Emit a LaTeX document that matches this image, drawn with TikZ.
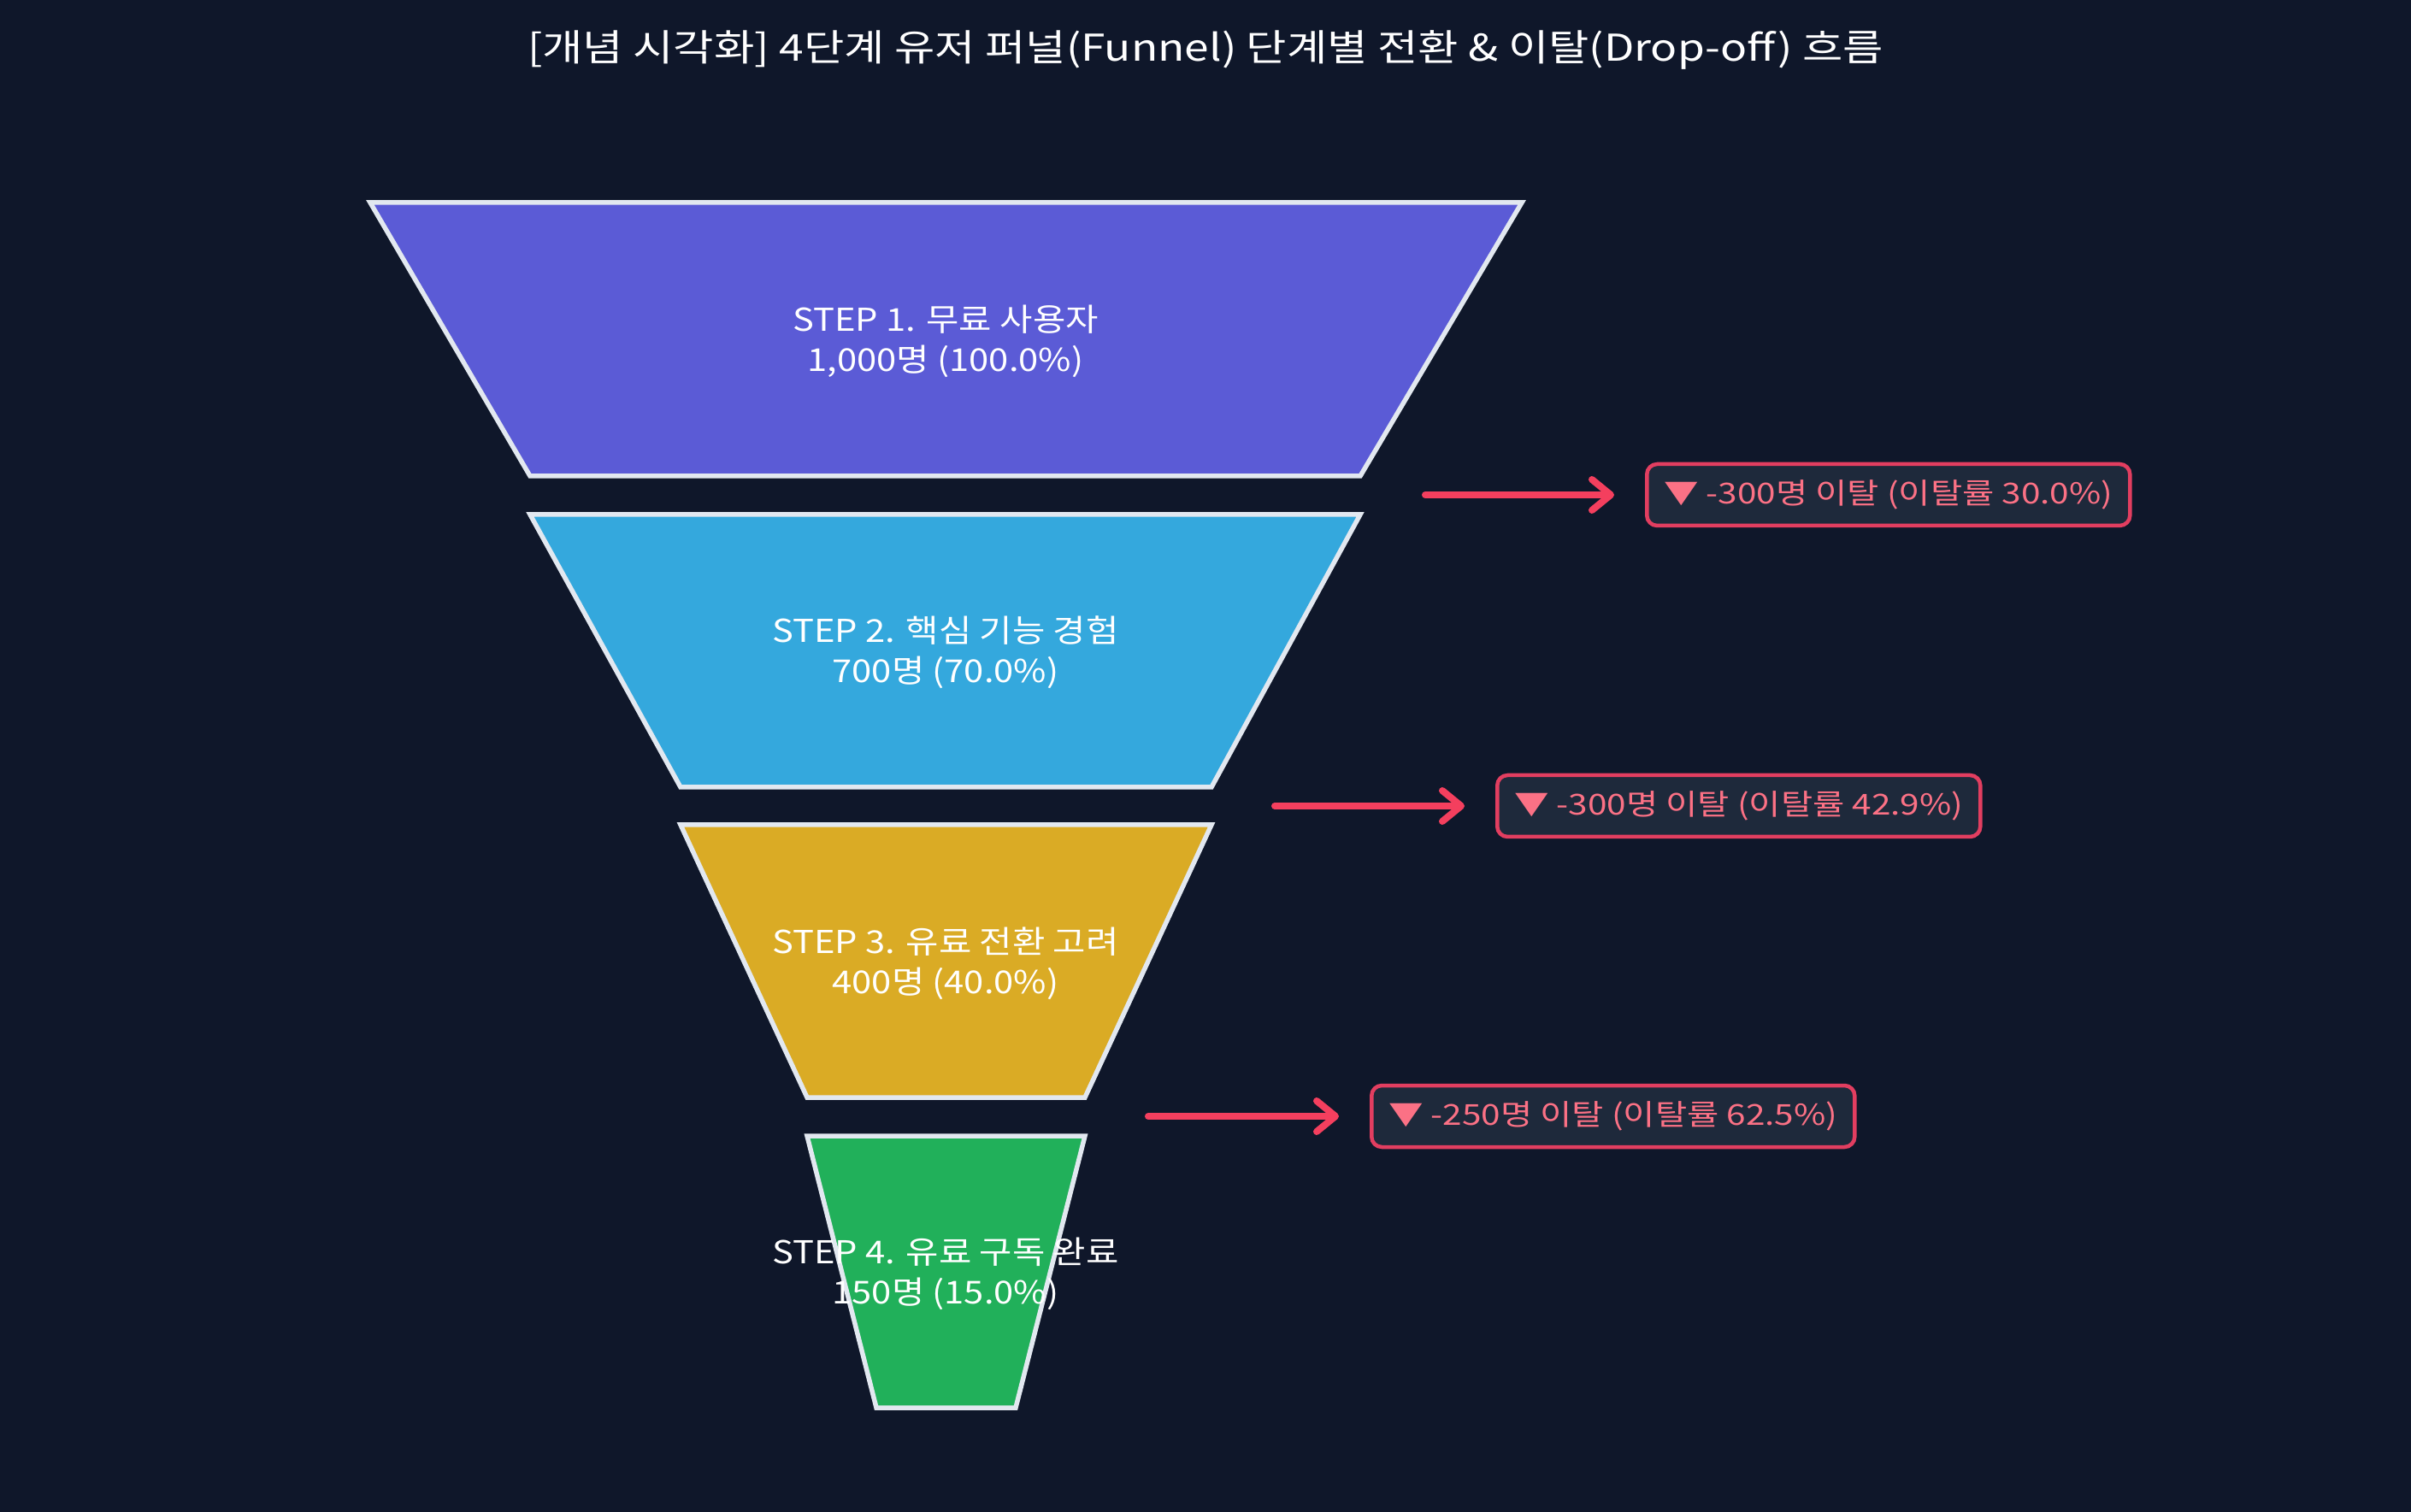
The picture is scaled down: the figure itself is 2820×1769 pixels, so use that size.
\documentclass[tikz,border=0pt]{standalone}
\usepackage{fontspec}
\setmainfont{Noto Sans CJK KR}
\newfontfamily\titlefont[FakeStretch=1.19]{Noto Sans CJK KR}
\newfontfamily\stepfont[FakeStretch=1.13]{Noto Sans CJK KR}
\newfontfamily\dropfont[FakeStretch=1.2]{Noto Sans CJK KR}
\usetikzlibrary{arrows.meta}
\definecolor{bg}{HTML}{0F172A}
\definecolor{outl}{HTML}{E2E8F0}
\definecolor{cA}{HTML}{5B5BD6}
\definecolor{cB}{HTML}{34A8DD}
\definecolor{cC}{HTML}{DAAB25}
\definecolor{cD}{HTML}{21B05A}
\definecolor{arr}{HTML}{F43F5E}
\definecolor{boxfill}{HTML}{1E293B}
\definecolor{boxline}{HTML}{E23E60}
\definecolor{boxtext}{HTML}{FB7185}
\tikzset{
  funnelpart/.style={draw=outl, line width=0.55mm, line join=miter},
  steplabel/.style={text=white, align=center, font=\stepfont\fontsize{10.5pt}{13.4pt}\selectfont},
  droparrow/.style={draw=arr, line width=0.8mm, line cap=round, -{Straight Barb[round, length=2.2mm, width=3.6mm]}},
  dropbox/.style={draw=boxline, fill=boxfill, line width=0.45mm, rounded corners=1.2mm, text=boxtext,
    font=\dropfont\fontsize{9.6pt}{11pt}\selectfont, minimum height=7.2mm, inner xsep=2mm, anchor=west},
  titlelabel/.style={text=white, font=\titlefont\fontsize{12.3pt}{14pt}\selectfont}
}
\begin{document}
\begin{tikzpicture}[x=0.1mm,y=-0.1mm]
\fill[bg] (0,0) rectangle (2820,1769);
\useasboundingbox (0,0) rectangle (2820,1769);
\node[titlelabel] (title) at (1410,59) {[개념 시각화] 4단계 유저 퍼널(Funnel) 단계별 전환 \& 이탈(Drop-off) 흐름};
% funnel stages
\draw[funnelpart, fill=cA] (433,237) -- (1780,237) -- (1591,557) -- (620,557) -- cycle;
\draw[funnelpart, fill=cB] (620,602) -- (1591,602) -- (1417,921) -- (796,921) -- cycle;
\draw[funnelpart, fill=cC] (796,965) -- (1417,965) -- (1269,1284) -- (944,1284) -- cycle;
\draw[funnelpart, fill=cD] (944,1329) -- (1269,1329) -- (1188,1647) -- (1025,1647) -- cycle;
\node[steplabel] (s1) at (1106,399) {STEP 1. 무료 사용자\\1,000명 (100.0\%)};
\node[steplabel] (s2) at (1106,763) {STEP 2. 핵심 기능 경험\\700명 (70.0\%)};
\node[steplabel] (s3) at (1106,1127) {STEP 3. 유료 전환 고려\\400명 (40.0\%)};
\node[steplabel] (s4) at (1106,1490) {STEP 4. 유료 구독 완료\\150명 (15.0\%)};
% drop-off boxes
\node[dropbox] (d1) at (1924,579) {▼ -300명 이탈 (이탈률 30.0\%)};
\node[dropbox] (d2) at (1749,943) {▼ -300명 이탈 (이탈률 42.9\%)};
\node[dropbox] (d3) at (1602,1306) {▼ -250명 이탈 (이탈률 62.5\%)};
\coordinate (a1s) at (1667,579);
\coordinate (a2s) at (1491,943);
\coordinate (a3s) at (1343,1306);
\draw[droparrow] (a1s) -- ([xshift=-3.6mm]d1.west);
\draw[droparrow] (a2s) -- ([xshift=-3.6mm]d2.west);
\draw[droparrow] (a3s) -- ([xshift=-3.6mm]d3.west);
\end{tikzpicture}
\end{document}
